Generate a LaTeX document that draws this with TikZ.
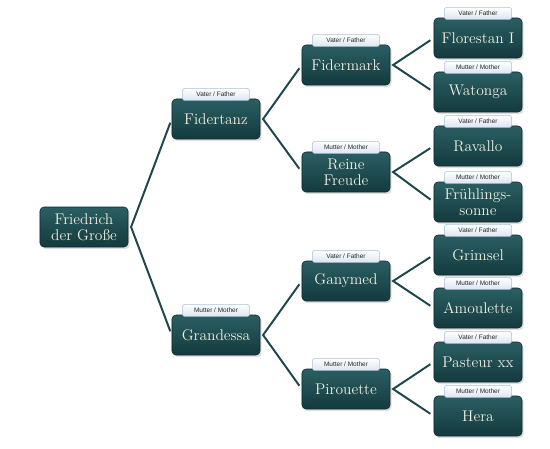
\documentclass[tikz,border=0pt]{standalone}
\usepackage{fontspec}
\newfontfamily\tabfont{Liberation Sans}
\usetikzlibrary{positioning,shadows}
\definecolor{boxtop}{HTML}{2A5F63}
\definecolor{boxbot}{HTML}{143A3E}
\definecolor{boxtext}{HTML}{F2EFE2}
\definecolor{tabbot}{HTML}{DCE5F0}
\definecolor{tabline}{HTML}{A9C1DA}
\definecolor{linkcol}{HTML}{1E474C}
\tikzset{
  horse/.style={rectangle, rounded corners=0.1cm, minimum width=2.2cm,
    minimum height=1cm, inner sep=1pt, top color=boxtop, bottom color=boxbot,
    draw=boxbot!70!black, text=boxtext, align=center,
    font=\fontsize{11}{11.5}\selectfont,
    drop shadow={opacity=0.25, shadow xshift=0.04cm, shadow yshift=-0.05cm}},
  tabbox/.style={rectangle, rounded corners=0.06cm, minimum width=1.68cm,
    minimum height=0.3cm, inner sep=0pt, top color=white, bottom color=tabbot,
    draw=tabline, text=black!85, font=\tabfont\fontsize{4.6}{5}\selectfont},
  link/.style={draw=linkcol, line width=1.4pt, shorten <=0.1cm, shorten >=0.1cm}
}
\begin{document}
\begin{tikzpicture}[x=0.025cm, y=-0.025cm]
  \useasboundingbox (0,0) rectangle (550,448);
  % horses
  \node[horse] (friedrich) at (84,227) {Friedrich\\der Große};
  \node[horse] (fidertanz) at (216,119) {Fidertanz};
  \node[horse] (grandessa) at (216,335) {Grandessa};
  \node[horse] (fidermark) at (346,65) {Fidermark};
  \node[horse] (reine) at (346,172) {Reine\\Freude};
  \node[horse] (ganymed) at (346,281) {Ganymed};
  \node[horse] (pirouette) at (346,389) {Pirouette};
  \node[horse] (florestan) at (478,38) {Florestan I};
  \node[horse] (watonga) at (478,92) {Watonga};
  \node[horse] (ravallo) at (478,146) {Ravallo};
  \node[horse] (fruehling) at (478,202) {Frühlings-\\sonne};
  \node[horse] (grimsel) at (478,255) {Grimsel};
  \node[horse] (amoulette) at (478,308) {Amoulette};
  \node[horse] (pasteur) at (478,362) {Pasteur xx};
  \node[horse] (hera) at (478,416) {Hera};
  % tabs
  \node[tabbox, above=-0.05cm of fidertanz] (fidertanz-tab) {Vater / Father};
  \node[tabbox, above=-0.05cm of grandessa] (grandessa-tab) {Mutter / Mother};
  \node[tabbox, above=-0.05cm of fidermark] (fidermark-tab) {Vater / Father};
  \node[tabbox, above=-0.05cm of reine] (reine-tab) {Mutter / Mother};
  \node[tabbox, above=-0.05cm of ganymed] (ganymed-tab) {Vater / Father};
  \node[tabbox, above=-0.05cm of pirouette] (pirouette-tab) {Mutter / Mother};
  \node[tabbox, above=-0.05cm of florestan] (florestan-tab) {Vater / Father};
  \node[tabbox, above=-0.05cm of watonga] (watonga-tab) {Mutter / Mother};
  \node[tabbox, above=-0.05cm of ravallo] (ravallo-tab) {Vater / Father};
  \node[tabbox, above=-0.05cm of fruehling] (fruehling-tab) {Mutter / Mother};
  \node[tabbox, above=-0.05cm of grimsel] (grimsel-tab) {Vater / Father};
  \node[tabbox, above=-0.05cm of amoulette] (amoulette-tab) {Mutter / Mother};
  \node[tabbox, above=-0.05cm of pasteur] (pasteur-tab) {Vater / Father};
  \node[tabbox, above=-0.05cm of hera] (hera-tab) {Mutter / Mother};
  % links
  \coordinate (friedrich-v) at ([xshift=0.07cm]friedrich.east);
  \coordinate (fidertanz-v) at ([xshift=0.07cm]fidertanz.east);
  \coordinate (grandessa-v) at ([xshift=0.07cm]grandessa.east);
  \coordinate (fidermark-v) at ([xshift=0.07cm]fidermark.east);
  \coordinate (reine-v) at ([xshift=0.07cm]reine.east);
  \coordinate (ganymed-v) at ([xshift=0.07cm]ganymed.east);
  \coordinate (pirouette-v) at ([xshift=0.07cm]pirouette.east);
  \draw[link] (fidertanz.west) -- (friedrich-v) -- (grandessa.west);
  \draw[link] (fidermark.west) -- (fidertanz-v) -- (reine.west);
  \draw[link] (ganymed.west) -- (grandessa-v) -- (pirouette.west);
  \draw[link] (florestan.west) -- (fidermark-v) -- (watonga.west);
  \draw[link] (ravallo.west) -- (reine-v) -- (fruehling.west);
  \draw[link] (grimsel.west) -- (ganymed-v) -- (amoulette.west);
  \draw[link] (pasteur.west) -- (pirouette-v) -- (hera.west);
\end{tikzpicture}
\end{document}
